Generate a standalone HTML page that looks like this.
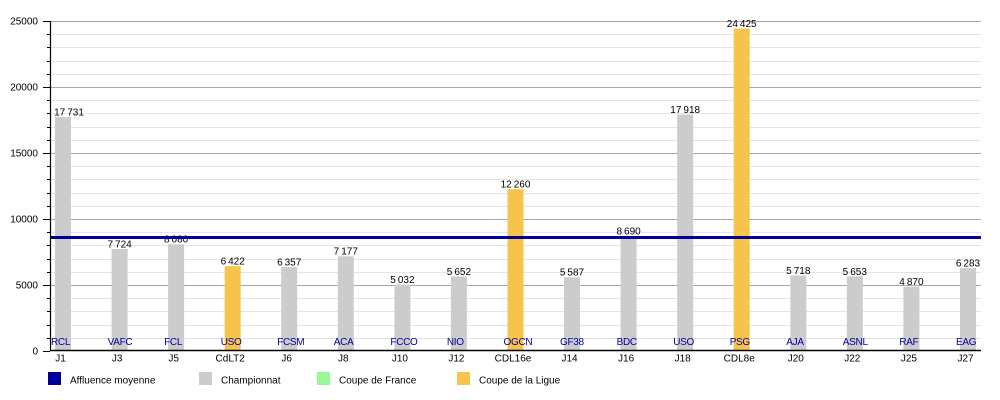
<!DOCTYPE html>
<html><head><meta charset="utf-8"><style>
html,body{margin:0;padding:0;background:#fff;width:1000px;height:400px;overflow:hidden}
svg{display:block}
text{font-family:"Liberation Sans",Arial,sans-serif;font-size:10px}
</style></head><body>
<svg width="1000" height="400" viewBox="0 0 1000 400" xmlns="http://www.w3.org/2000/svg">
<g id="grid"></g>
<g id="bars"></g>
<g id="overlay"></g>
<script>
(function(){
var NS="http://www.w3.org/2000/svg";
function el(parent,tag,attrs,txt){var e=document.createElementNS(NS,tag);for(var k in attrs)e.setAttribute(k,attrs[k]);if(txt!==undefined)e.textContent=txt;parent.appendChild(e);return e;}
var grid=document.getElementById('grid'),bars=document.getElementById('bars'),ov=document.getElementById('overlay');
function Y(v){return 351-v*0.0132;}
for(var v=1000;v<25000;v+=1000){if(v%5000===0)continue;var y=Math.round(Y(v))+0.5;
 el(grid,'line',{x1:50,x2:981,y1:y,y2:y,stroke:'#e4e4e4','stroke-width':1});
 el(grid,'line',{x1:47,x2:50,y1:y,y2:y,stroke:'#000','stroke-width':1});}
for(var v=0;v<=25000;v+=5000){var y=Math.round(Y(v))+0.5;
 if(v>0)el(grid,'line',{x1:50,x2:981,y1:y,y2:y,stroke:'#a8a8a8','stroke-width':1});
 el(grid,'line',{x1:43,x2:50,y1:y,y2:y,stroke:'#000','stroke-width':1});
 el(grid,'text',{x:38,y:(Y(v)+3.6).toFixed(1),'text-anchor':'end',fill:'#000'},String(v));}
var data=[
['J1','RCL',17731,'c','17 731'],['J3','VAFC',7724,'c','7 724'],['J5','FCL',8080,'c','8 080'],
['CdLT2','USO',6422,'l','6 422'],['J6','FCSM',6357,'c','6 357'],['J8','ACA',7177,'c','7 177'],
['J10','FCCO',5032,'c','5 032'],['J12','NIO',5652,'c','5 652'],['CDL16e','OGCN',12260,'l','12 260'],
['J14','GF38',5587,'c','5 587'],['J16','BDC',8690,'c','8 690'],['J18','USO',17918,'c','17 918'],
['CDL8e','PSG',24425,'l','24 425'],['J20','AJA',5718,'c','5 718'],['J22','ASNL',5653,'c','5 653'],
['J25','RAF',4870,'c','4 870'],['J27','EAG',6283,'c','6 283']];
var step=56.56;
data.forEach(function(d,i){
 var cx=63+step*i,top=Y(d[2]);
 el(bars,'rect',{x:(cx-8).toFixed(1),y:top.toFixed(1),width:16,height:(351-top).toFixed(1),fill:d[3]==='l'?'#f7c34c':'#cccccc'});
 var lx=i===0?69:cx;
 el(bars,'text',{x:lx.toFixed(1),y:(top-1.6).toFixed(1),'text-anchor':'middle',fill:'#000','word-spacing':'-0.8'},d[4]);
 el(bars,'text',{x:(51+step*i).toFixed(1),y:345,'text-anchor':'start',fill:'#0000a0','letter-spacing':'-0.3'},d[1]);
 el(bars,'text',{x:(60.5+step*i).toFixed(1),y:361.5,'text-anchor':'middle',fill:'#000'},d[0]);
});
el(ov,'line',{x1:50,x2:981,y1:237.5,y2:237.5,stroke:'#000099','stroke-width':3});
el(ov,'line',{x1:50.5,x2:50.5,y1:21,y2:351,stroke:'#000','stroke-width':1.2});
el(ov,'line',{x1:50,x2:981,y1:350.5,y2:350.5,stroke:'#000','stroke-width':1.5});
var leg=[[48,70,'#000099','Affluence moyenne'],[199,221,'#cccccc','Championnat'],[317,339,'#99f799','Coupe de France'],[457,479,'#f7c34c','Coupe de la Ligue']];
leg.forEach(function(l){
 el(ov,'rect',{x:l[0],y:372,width:13,height:13,fill:l[2]});
 el(ov,'text',{x:l[1],y:383.5,fill:'#000'},l[3]);
});
})();
</script>
</svg>
</body></html>
